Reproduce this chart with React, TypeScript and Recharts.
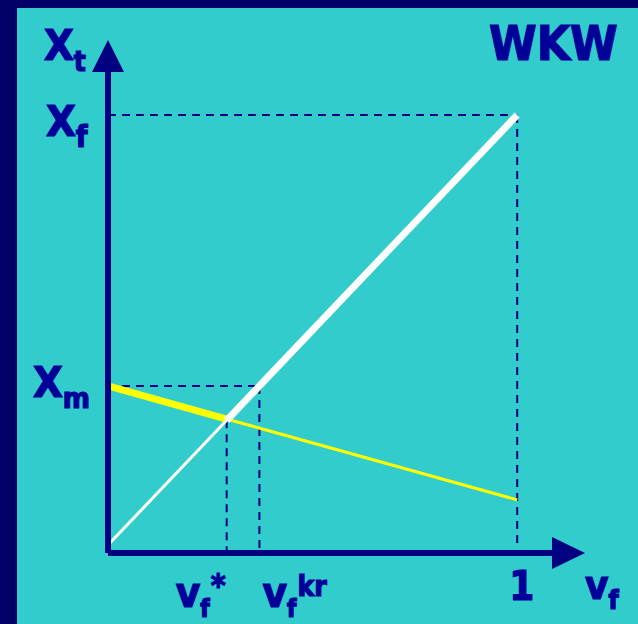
import {
  ComposedChart,
  Line,
  ReferenceDot,
  ReferenceLine,
  XAxis,
  YAxis,
} from "recharts"

// values (x = v_f, y = X_t, X_f = 1)
const X_F = 1
const X_M = 0.37
const V_STAR = 0.29
const V_KR = 0.37
const X_MAX = 1.085
const Y_MIN = -0.0186
const Y_MAX = 1.1

const whiteLow = [
  { x: 0, y: 0 },
  { x: V_STAR, y: 0.29 },
]
const whiteHigh = [
  { x: V_STAR, y: 0.29 },
  { x: 1, y: 1 },
]
const yellowHigh = [
  { x: 0, y: X_M },
  { x: V_STAR, y: 0.293 },
]
const yellowLow = [
  { x: V_STAR, y: 0.293 },
  { x: 1, y: 0.105 },
]

const X_TICKS = [V_STAR, V_KR, 1, X_MAX]
const Y_TICKS = [X_M, X_F, Y_MAX]

const BG = "#33cccc"
const BAND = "#000066"
const AXIS = "#000080"
const INK = "#000099"
const FONT = "'DejaVu Sans Condensed', 'DejaVu Sans', sans-serif"

type Part = { t: string; size: number; dx?: number; dy?: number }
type TickLabel = { dx: number; dy: number; parts: Part[] }

const Y_LABELS: Record<number, TickLabel> = {
  [Y_MAX]: { dx: -64, dy: -12, parts: [{ t: "X", size: 43 }, { t: "t", size: 28, dy: 11 }] },
  [X_F]: { dx: -62, dy: 21, parts: [{ t: "X", size: 43 }, { t: "f", size: 30, dy: 11 }] },
  [X_M]: { dx: -75, dy: 11, parts: [{ t: "X", size: 43 }, { t: "m", size: 29, dy: 11 }] },
}

const X_LABELS: Record<number, TickLabel> = {
  [V_STAR]: {
    dx: -51,
    dy: 54,
    parts: [
      { t: "v", size: 42 },
      { t: "f", size: 24, dy: 10 },
      { t: "*", size: 32, dy: -21, dx: 1 },
    ],
  },
  [V_KR]: {
    dx: 3,
    dy: 54,
    parts: [
      { t: "v", size: 42 },
      { t: "f", size: 24, dy: 10 },
      { t: "kr", size: 28, dy: -21, dx: 1 },
    ],
  },
  1: { dx: -8, dy: 47, parts: [{ t: "1", size: 40 }] },
  [X_MAX]: {
    dx: 33,
    dy: 46,
    parts: [
      { t: "v", size: 40 },
      { t: "f", size: 26, dy: 10 },
    ],
  },
}

function renderLabel(cfg: TickLabel | undefined, x: number, y: number) {
  if (!cfg) return <g />
  return (
    <text
      x={x + cfg.dx}
      y={y + cfg.dy}
      fill={INK}
      stroke={INK}
      strokeWidth={1.2}
      fontFamily={FONT}
      fontWeight="bold"
    >
      {cfg.parts.map((p, i) => (
        <tspan key={i} fontSize={p.size} dx={p.dx ?? 0} dy={p.dy ?? 0}>
          {p.t}
        </tspan>
      ))}
    </text>
  )
}

const YTick = (props: any) => renderLabel(Y_LABELS[props.payload.value], props.x, props.y)
const XTick = (props: any) => renderLabel(X_LABELS[props.payload.value], props.x, props.y)

const UpArrow = (props: any) => (
  <polygon
    points={`${props.cx},${props.cy - 32} ${props.cx - 16},${props.cy} ${props.cx + 16},${props.cy}`}
    fill={AXIS}
  />
)
const RightArrow = (props: any) => (
  <polygon
    points={`${props.cx + 33},${props.cy} ${props.cx},${props.cy - 16} ${props.cx},${props.cy + 16}`}
    fill={AXIS}
  />
)

const dash = { stroke: AXIS, strokeWidth: 2, strokeDasharray: "8 6" }

export default function App() {
  return (
    <div style={{ position: "absolute", left: 0, top: 0, width: 638, height: 624, background: BAND }}>
      <div style={{ position: "absolute", left: 17, top: 8, width: 621, height: 616, background: BG }} />
      <svg width={638} height={624} style={{ position: "absolute", left: 0, top: 0 }}>
        <text
          x={489}
          y={60}
          fill={INK}
          stroke={INK}
          strokeWidth={1.2}
          fontFamily={FONT}
          fontWeight="bold"
          fontSize={48}
        >
          WKW
        </text>
      </svg>
      <div style={{ position: "absolute", left: 0, top: 0 }}>
        <ComposedChart
          width={638}
          height={624}
          margin={{ top: 72, right: 86, bottom: 41, left: 48 }}
        >
          <XAxis
            dataKey="x"
            type="number"
            domain={[0, X_MAX]}
            ticks={X_TICKS}
            height={30}
            tickLine={false}
            tickSize={0}
            tickMargin={0}
            tick={<XTick />}
            axisLine={{ stroke: AXIS, strokeWidth: 6 }}
            interval={0}
          />
          <YAxis
            dataKey="y"
            type="number"
            domain={[Y_MIN, Y_MAX]}
            ticks={Y_TICKS}
            width={60}
            tickLine={false}
            tickSize={0}
            tickMargin={0}
            tick={<YTick />}
            axisLine={{ stroke: AXIS, strokeWidth: 6 }}
            interval={0}
          />
          <ReferenceLine segment={[{ x: 0, y: X_F }, { x: 1, y: X_F }]} {...dash} />
          <ReferenceLine segment={[{ x: 1, y: X_F }, { x: 1, y: 0 }]} {...dash} />
          <ReferenceLine segment={[{ x: 0, y: X_M }, { x: V_KR, y: X_M }]} {...dash} />
          <ReferenceLine segment={[{ x: V_KR, y: X_M }, { x: V_KR, y: Y_MIN }]} {...dash} />
          <ReferenceLine segment={[{ x: V_STAR, y: 0.29 }, { x: V_STAR, y: Y_MIN }]} {...dash} />
          <Line data={yellowLow} dataKey="y" stroke="#ffff00" strokeWidth={3} dot={false} isAnimationActive={false} />
          <Line data={yellowHigh} dataKey="y" stroke="#ffff00" strokeWidth={7} dot={false} isAnimationActive={false} />
          <Line data={whiteLow} dataKey="y" stroke="#ffffff" strokeWidth={3} dot={false} isAnimationActive={false} />
          <Line data={whiteHigh} dataKey="y" stroke="#ffffff" strokeWidth={7} dot={false} isAnimationActive={false} />
          <ReferenceDot x={0} y={Y_MAX} shape={<UpArrow />} />
          <ReferenceDot x={X_MAX} y={Y_MIN} shape={<RightArrow />} />
        </ComposedChart>
      </div>
    </div>
  )
}
